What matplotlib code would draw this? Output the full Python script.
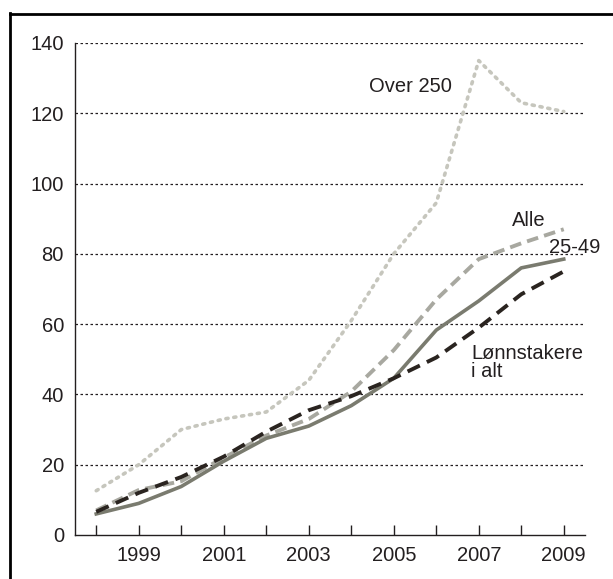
import matplotlib
matplotlib.use("Agg")
import matplotlib.pyplot as plt
from matplotlib.lines import Line2D

plt.rcParams['font.family'] = ['Liberation Sans', 'DejaVu Sans']

years = [1998, 1999, 2000, 2001, 2002, 2003, 2004, 2005, 2006, 2007, 2008, 2009]
over_250 = [12.6, 20, 30, 33, 35, 44, 61, 80, 94.5, 135, 123, 120.5]
alle = [7, 12.8, 15.3, 22, 28.3, 33, 40.8, 52.6, 67, 78.5, 83, 87]
s25_49 = [6, 9, 13.8, 21, 27.5, 31, 36.8, 44.6, 58.3, 66.6, 76, 78.5]
lonnstakere = [6.6, 12, 16.5, 22.3, 29.4, 35.5, 39.5, 44.6, 50.5, 59, 68.5, 75]
yticks = [0, 20, 40, 60, 80, 100, 120, 140]
xlabels = ['1999', '2001', '2003', '2005', '2007', '2009']

txt = '#231f20'
fig = plt.figure(figsize=(6.13, 5.79), dpi=100)
ax = fig.add_axes([75/613, 44/579, 510/613, 492/579])

for y in yticks[1:]:
    ax.axhline(y, color='#231f20', lw=0.9, ls=(0, (2, 2)), zorder=1)

ax.plot(years, over_250, color='#c6c6bd', lw=2.6, ls=(0, (0.6, 1.6)),
        dash_capstyle='round', zorder=3)
ax.plot(years, alle, color='#a8a8a0', lw=2.8, ls=(0, (3, 1.6)), zorder=4)
ax.plot(years, s25_49, color='#7a7b6f', lw=2.6, zorder=5)
ax.plot(years, lonnstakere, color='#2a2420', lw=2.8, ls=(0, (3.5, 2)), zorder=6)

ax.text(2004.42, 127.5, 'Over 250', fontsize=14.5, color=txt, ha='left', va='center')
ax.text(2007.79, 89.4, 'Alle', fontsize=14.5, color=txt, ha='left', va='center')
ax.text(2008.66, 81.7, '25-49', fontsize=14.5, color=txt, ha='left', va='center', clip_on=False)
ax.text(2006.82, 49.0, 'Lønnstakere\ni alt', fontsize=14.5, color=txt, ha='left',
        va='center', linespacing=0.95)

ax.set_xlim(1997.5, 2009.5)
ax.set_ylim(0, 140)
ax.set_yticks(yticks)
ax.set_yticklabels([str(v) for v in yticks])
ax.set_xticks(years)
ax.set_xticklabels(['' if str(y) not in xlabels else str(y) for y in years])
ax.tick_params(axis='y', length=0, pad=8, labelsize=14.5, labelcolor=txt)
ax.tick_params(axis='x', direction='in', length=7, width=1, color=txt, pad=8,
               labelsize=14.5, labelcolor=txt)
for s in ['top', 'right']:
    ax.spines[s].set_visible(False)
ax.spines['left'].set_color(txt)
ax.spines['left'].set_linewidth(1)
ax.spines['bottom'].set_color(txt)
ax.spines['bottom'].set_linewidth(1)

# outer frame (top and left)
fig.add_artist(Line2D([10/613, 10/613], [0, 1 - 13/579], color='black', lw=2,
                      transform=fig.transFigure))
fig.add_artist(Line2D([10/613, 1], [1 - 14/579, 1 - 14/579], color='black', lw=2,
                      transform=fig.transFigure))

fig.savefig('out.png', dpi=100)
